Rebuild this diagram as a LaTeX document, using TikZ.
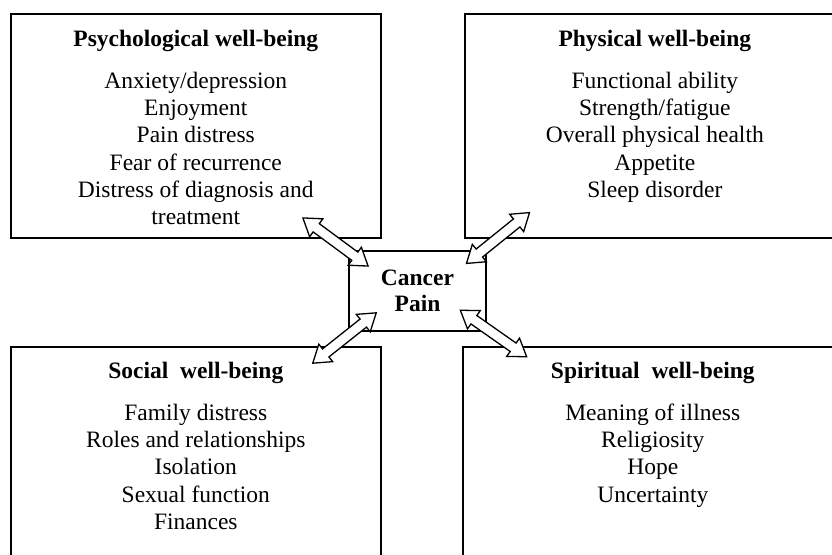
\documentclass[tikz,border=0pt]{standalone}
\usepackage{fontspec}
\setmainfont{Liberation Serif}
\usetikzlibrary{shapes.arrows,positioning}

\begin{document}
\begin{tikzpicture}[x=1pt,y=-1pt]
  \tikzstyle{box}=[draw,line width=1.6pt,inner sep=0,anchor=north west]
  \tikzstyle{txt}=[align=center,inner sep=0,anchor=north,font=\fontsize{23.5}{27.2}\selectfont]
  \tikzstyle{dbl}=[double arrow,draw,line width=1.3pt,fill=white,sloped,inner xsep=0,inner ysep=4.5pt,minimum width=21pt,minimum height=81pt,double arrow head extend=6pt,double arrow tip angle=68]

  \path[use as bounding box,clip] (0,0) rectangle (832,554);

  % the four quadrants
  \node[box,minimum width=370pt,minimum height=224pt] (psyBox) at (10,13) {};
  \node[box,minimum width=380pt,minimum height=224pt] (phyBox) at (464,13) {};
  \node[box,minimum width=370pt,minimum height=230pt] (socBox) at (10,346) {};
  \node[box,minimum width=380pt,minimum height=230pt] (spiBox) at (462,346) {};

  \node[txt] (psy) at ([yshift=-17pt]psyBox.north) {\textbf{Psychological well-being}\\[14.8pt]
    Anxiety/depression\\ Enjoyment\\ Pain distress\\ Fear of recurrence\\ Distress of diagnosis and\\ treatment};
  \node[txt] (phy) at ([yshift=-17pt]phyBox.north) {\textbf{Physical well-being}\\[14.8pt]
    Functional ability\\ Strength/fatigue\\ Overall physical health\\ Appetite\\ Sleep disorder};
  \node[txt] (soc) at ([yshift=-16pt]socBox.north) {\textbf{Social\ \ well-being}\\[14.8pt]
    Family distress\\ Roles and relationships\\ Isolation\\ Sexual function\\ Finances};
  \node[txt] (spi) at ([yshift=-16pt]spiBox.north) {\textbf{Spiritual\ \ well-being}\\[14.8pt]
    Meaning of illness\\ Religiosity\\ Hope\\ Uncertainty};

  % centre
  \node[draw,line width=1.6pt,minimum width=137pt,minimum height=80pt,align=center,
    font=\fontsize{23.5}{26}\selectfont\bfseries] (pain) at (417.5,291) {Cancer\\ Pain};

  % double arrows
  \coordinate (psyEnd) at (303,218); \coordinate (painNW) at (368,266);
  \coordinate (phyEnd) at (529,213); \coordinate (painNE) at (467,263);
  \coordinate (socEnd) at (313,363); \coordinate (painSW) at (376,313);
  \coordinate (spiEnd) at (527,357); \coordinate (painSE) at (460,310);

  \path (psyEnd) -- node[dbl]{} (painNW);
  \path (phyEnd) -- node[dbl]{} (painNE);
  \path (socEnd) -- node[dbl]{} (painSW);
  \path (spiEnd) -- node[dbl]{} (painSE);
\end{tikzpicture}
\end{document}
